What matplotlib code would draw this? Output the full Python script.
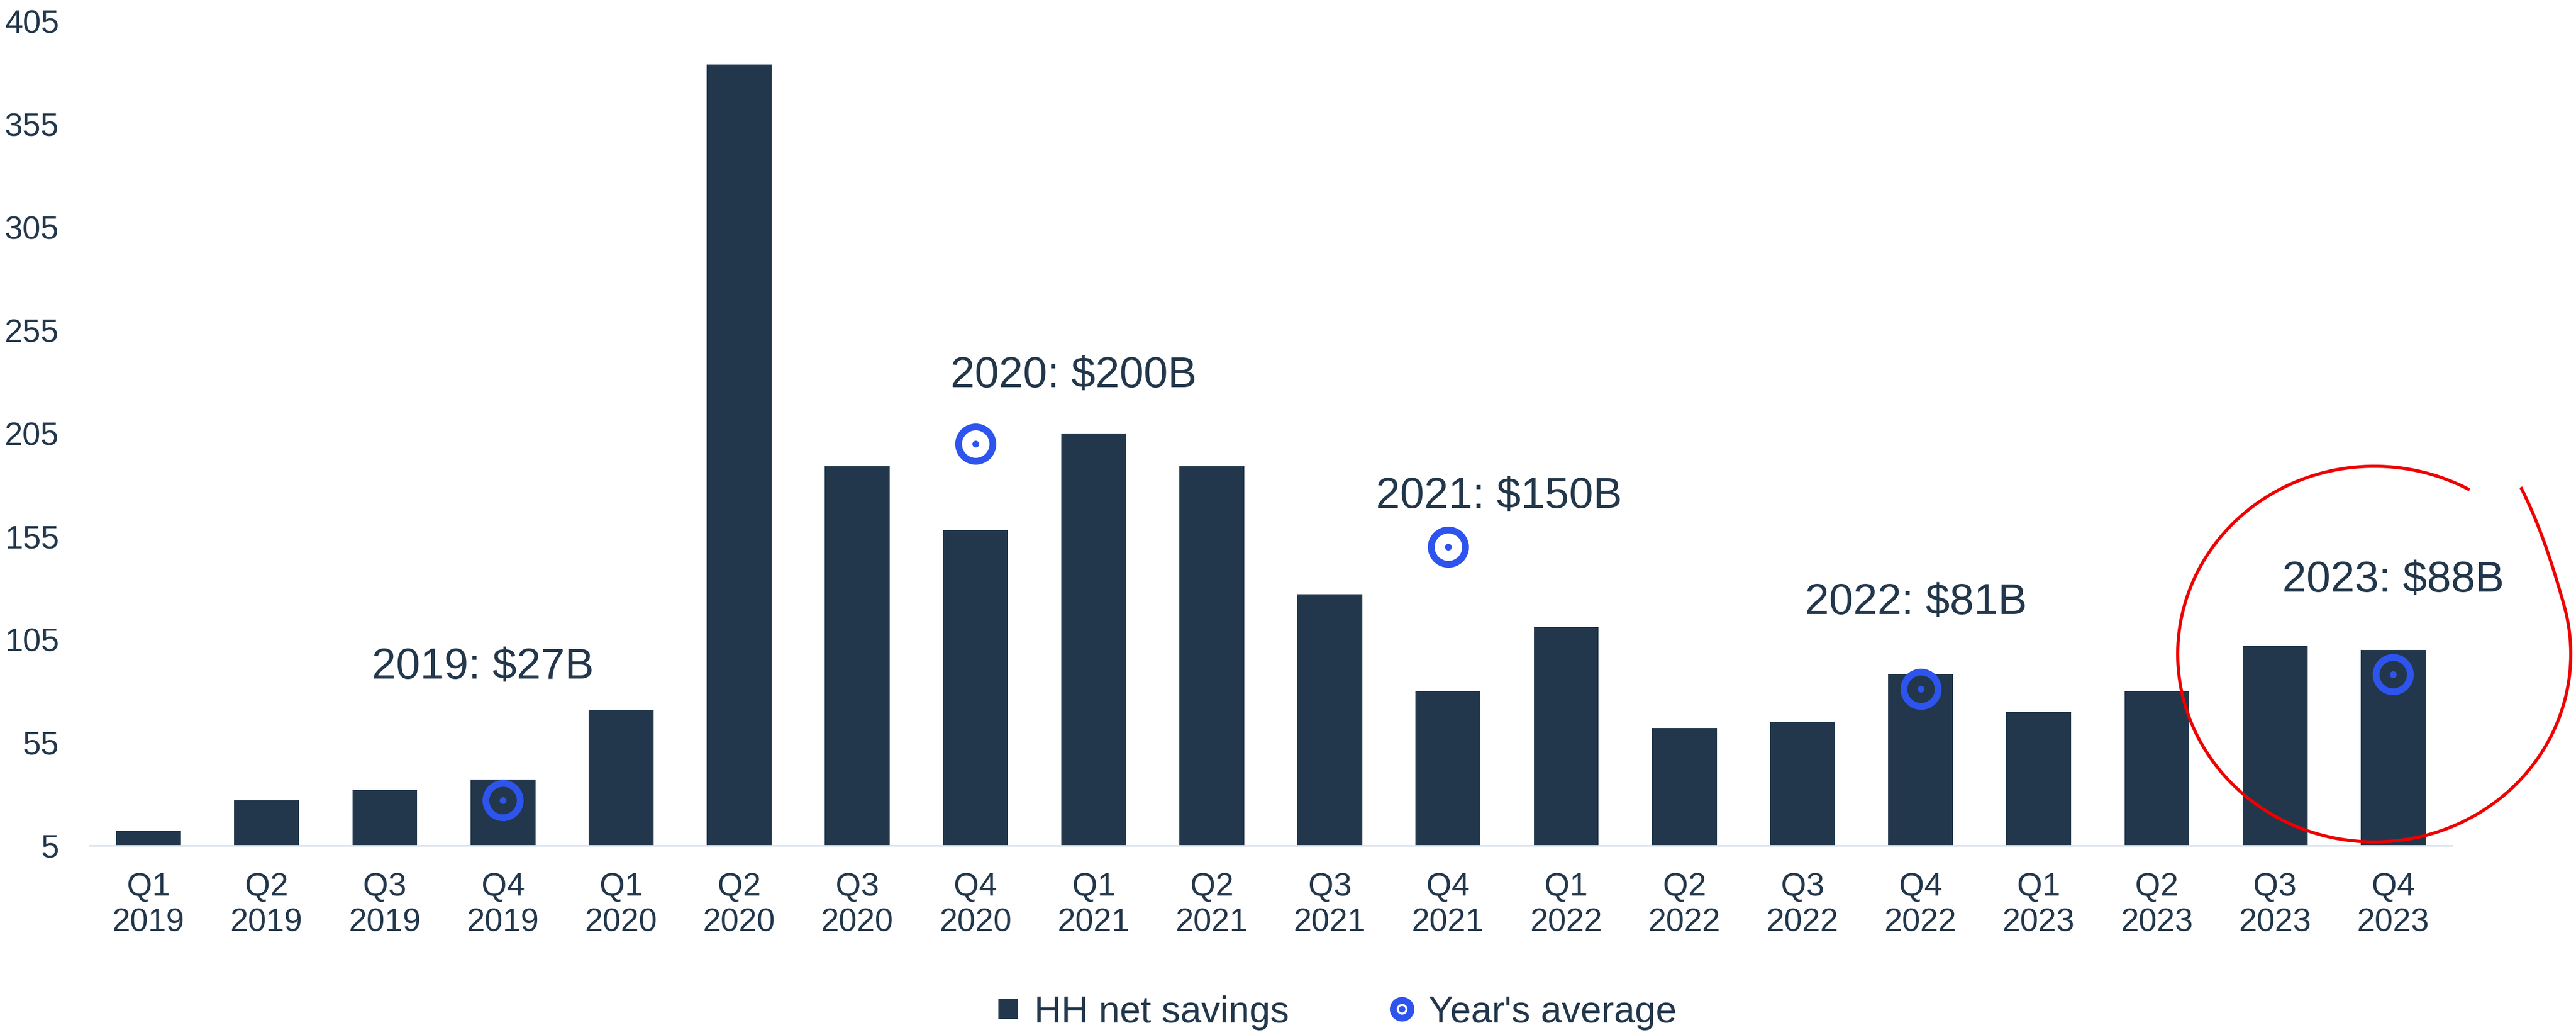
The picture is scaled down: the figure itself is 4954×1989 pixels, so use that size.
import matplotlib.pyplot as plt
import numpy as np
from matplotlib.lines import Line2D
from matplotlib.legend_handler import HandlerTuple

plt.rcParams['font.family'] = ['Liberation Sans', 'DejaVu Sans']

# quarterly household net savings, $B
quarters = ['Q1\n2019', 'Q2\n2019', 'Q3\n2019', 'Q4\n2019',
            'Q1\n2020', 'Q2\n2020', 'Q3\n2020', 'Q4\n2020',
            'Q1\n2021', 'Q2\n2021', 'Q3\n2021', 'Q4\n2021',
            'Q1\n2022', 'Q2\n2022', 'Q3\n2022', 'Q4\n2022',
            'Q1\n2023', 'Q2\n2023', 'Q3\n2023', 'Q4\n2023']
savings = [12, 27, 32, 37, 71, 384, 189, 158, 205, 189, 127, 80,
           111, 62, 65, 88, 70, 80, 102, 100]

# yearly averages, drawn on the Q4 bar of each year
years = ['2019', '2020', '2021', '2022', '2023']
avg_idx = [3, 7, 11, 15, 19]
avg_vals = [27, 200, 150, 81, 88]

# where the year labels sit (x in bar index, y in $B)
lab_x = [2.83, 7.83, 11.43, 14.96, 19.0]
lab_y = [86, 227.5, 169, 117.4, 128.2]

yticks = np.arange(5, 406, 50)

navy = '#22374B'
blue = '#2E54EE'

W, H = 4954, 1989
fig = plt.figure(figsize=(W / 100, H / 100), dpi=100)
ax = fig.add_axes([172 / W, 1 - 1625 / H, (4716 - 172) / W, (1625 - 41) / H])

x = np.arange(len(quarters))
ax.bar(x, savings, width=0.55, color=navy, zorder=2)

ax.plot(avg_idx, avg_vals, linestyle='none', marker='o', ms=47.5, mew=9.4,
        mfc='none', mec=blue, zorder=3)
ax.plot(avg_idx, avg_vals, linestyle='none', marker='o', ms=9.4, mew=0,
        mfc=blue, zorder=3)

for xx, yy, yr, v in zip(lab_x, lab_y, years, avg_vals):
    ax.text(xx, yy, f'{yr}: ${v}B', ha='center', va='baseline',
            fontsize=60, color=navy)

ax.set_xlim(-0.5, len(quarters) - 0.5)
ax.set_ylim(5, 405)
ax.set_yticks(yticks)
ax.set_xticks(x)
ax.set_xticklabels(quarters, linespacing=1.2)
ax.tick_params(axis='both', length=0, labelsize=45, colors=navy)
ax.tick_params(axis='y', pad=42)
ax.tick_params(axis='x', pad=36)
for s in ['top', 'right', 'left']:
    ax.spines[s].set_visible(False)
ax.spines['bottom'].set_color('#D6E0EA')
ax.spines['bottom'].set_linewidth(2.2)

# legend: square for bars, blue disc with a white ring for the averages
h1 = Line2D([], [], linestyle='none', marker='s', ms=27, mew=0, color=navy)
h2a = Line2D([], [], linestyle='none', marker='o', ms=34, mew=0, mfc=blue)
h2b = Line2D([], [], linestyle='none', marker='o', ms=12, mew=2.9,
             mfc='none', mec='white')
fig.legend([h1, (h2a, h2b)], ['HH net savings', "Year's average"], loc='center',
           bbox_to_anchor=(2567 / W, 1 - 1946 / H), ncol=2, frameon=False,
           fontsize=52, labelcolor=navy, handlelength=0.8, handletextpad=0.3,
           columnspacing=2.6, handler_map={tuple: HandlerTuple(ndivide=1, pad=0)})

# hand-drawn red ring around 2023
th = np.radians(np.linspace(61, 410, 400))
grow = 1 + 0.16 * np.clip((np.degrees(th) - 375) / 35, 0, 1) ** 2
cx, cy, rx, ry = 4566, 1257, 378, 361
px = cx + rx * grow * np.cos(th)
py = cy - ry * grow * np.sin(th)
fig.add_artist(Line2D(px / W, 1 - py / H, transform=fig.transFigure,
                      color='#EE0000', lw=4.4, solid_capstyle='butt'))

fig.savefig('out.png', dpi=100, facecolor='white')
